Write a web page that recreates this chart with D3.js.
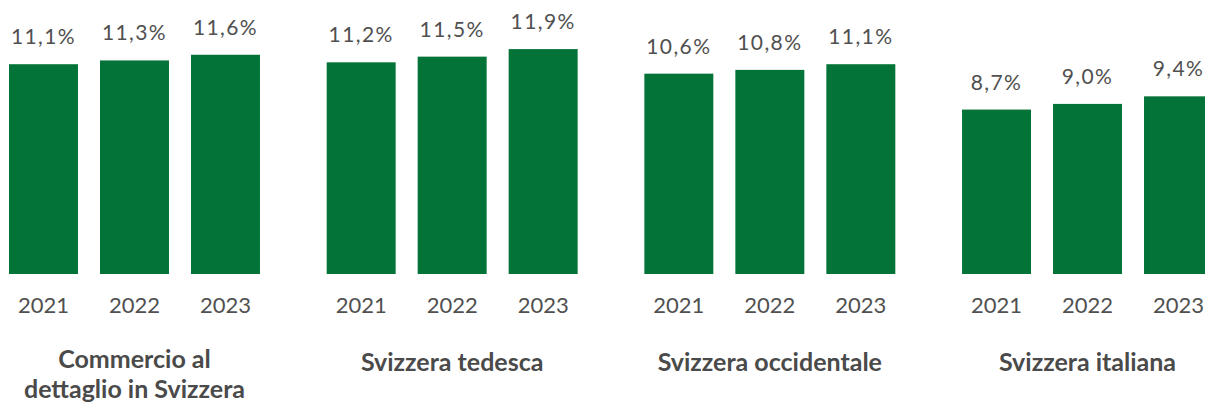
<!DOCTYPE html>
<html>
<head>
<meta charset="utf-8">
<script src="https://cdn.jsdelivr.net/npm/d3@7"></script>
<style>
  body { margin: 0; background: #fff; }
  svg { display: block; }
</style>
</head>
<body>
<svg id="chart"></svg>
<script>
// data
const regions = ['Commercio al dettaglio in Svizzera', 'Svizzera tedesca', 'Svizzera occidentale', 'Svizzera italiana'];
const regionLines = [['Commercio al', 'dettaglio in Svizzera'], ['Svizzera tedesca'], ['Svizzera occidentale'], ['Svizzera italiana']];
const years = ['2021', '2022', '2023'];
const values = [
  [11.1, 11.3, 11.6],
  [11.2, 11.5, 11.9],
  [10.6, 10.8, 11.1],
  [8.7, 9.0, 9.4]
];

const width = 1205, height = 405;
const green = '#037337';
const grey = '#505050';

const svg = d3.select('#chart')
  .attr('width', width)
  .attr('height', height);

// one band per region, then one band per year inside it
const x0 = d3.scaleBand()
  .domain(regions)
  .range([9, 1213])
  .paddingInner(0.21)
  .paddingOuter(0);

const x1 = d3.scaleBand()
  .domain(years)
  .range([0, x0.bandwidth()])
  .paddingInner(0.242)
  .paddingOuter(0);

const y = d3.scaleLinear()
  .domain([0, 12])
  .range([274, 47.2]);

const groups = svg.selectAll('g.region')
  .data(regions)
  .enter()
  .append('g')
  .attr('class', 'region')
  .attr('transform', d => `translate(${x0(d)},0)`);

groups.each(function(region, i) {
  const g = d3.select(this);
  const rows = years.map((yr, j) => ({ year: yr, value: values[i][j] }));

  g.selectAll('rect')
    .data(rows)
    .enter()
    .append('rect')
    .attr('x', d => x1(d.year))
    .attr('y', d => y(d.value))
    .attr('width', x1.bandwidth())
    .attr('height', d => y(0) - y(d.value))
    .attr('fill', green);

  // value labels
  g.selectAll('text.val')
    .data(rows)
    .enter()
    .append('text')
    .attr('class', 'val')
    .text(d => d.value.toFixed(1).replace('.', ',') + '%')
    .attr('x', d => x1(d.year) + x1.bandwidth() / 2)
    .attr('y', d => y(d.value) - 20)
    .attr('text-anchor', 'middle')
    .attr('fill', grey)
    .style('font-family', 'Lato, sans-serif')
    .style('font-size', '21px')
    .style('letter-spacing', '1.4px');

  // year labels
  g.selectAll('text.year')
    .data(rows)
    .enter()
    .append('text')
    .attr('class', 'year')
    .text(d => d.year)
    .attr('x', d => x1(d.year) + x1.bandwidth() / 2)
    .attr('y', 313)
    .attr('text-anchor', 'middle')
    .attr('fill', grey)
    .style('font-family', 'Lato, sans-serif')
    .style('font-size', '22px');

  // region title (two lines for the first one)
  const lines = regionLines[i];
  const title = g.append('text')
    .attr('x', x0.bandwidth() / 2)
    .attr('y', lines.length > 1 ? 368 : 371)
    .attr('text-anchor', 'middle')
    .attr('fill', '#4a4a4a')
    .style('font-family', 'Lato, sans-serif')
    .style('font-weight', 'bold')
    .style('font-size', '25px');

  title.selectAll('tspan')
    .data(lines)
    .enter()
    .append('tspan')
    .attr('x', x0.bandwidth() / 2)
    .attr('dy', (d, k) => k === 0 ? 0 : 30)
    .text(d => d);
});
</script>
</body>
</html>
